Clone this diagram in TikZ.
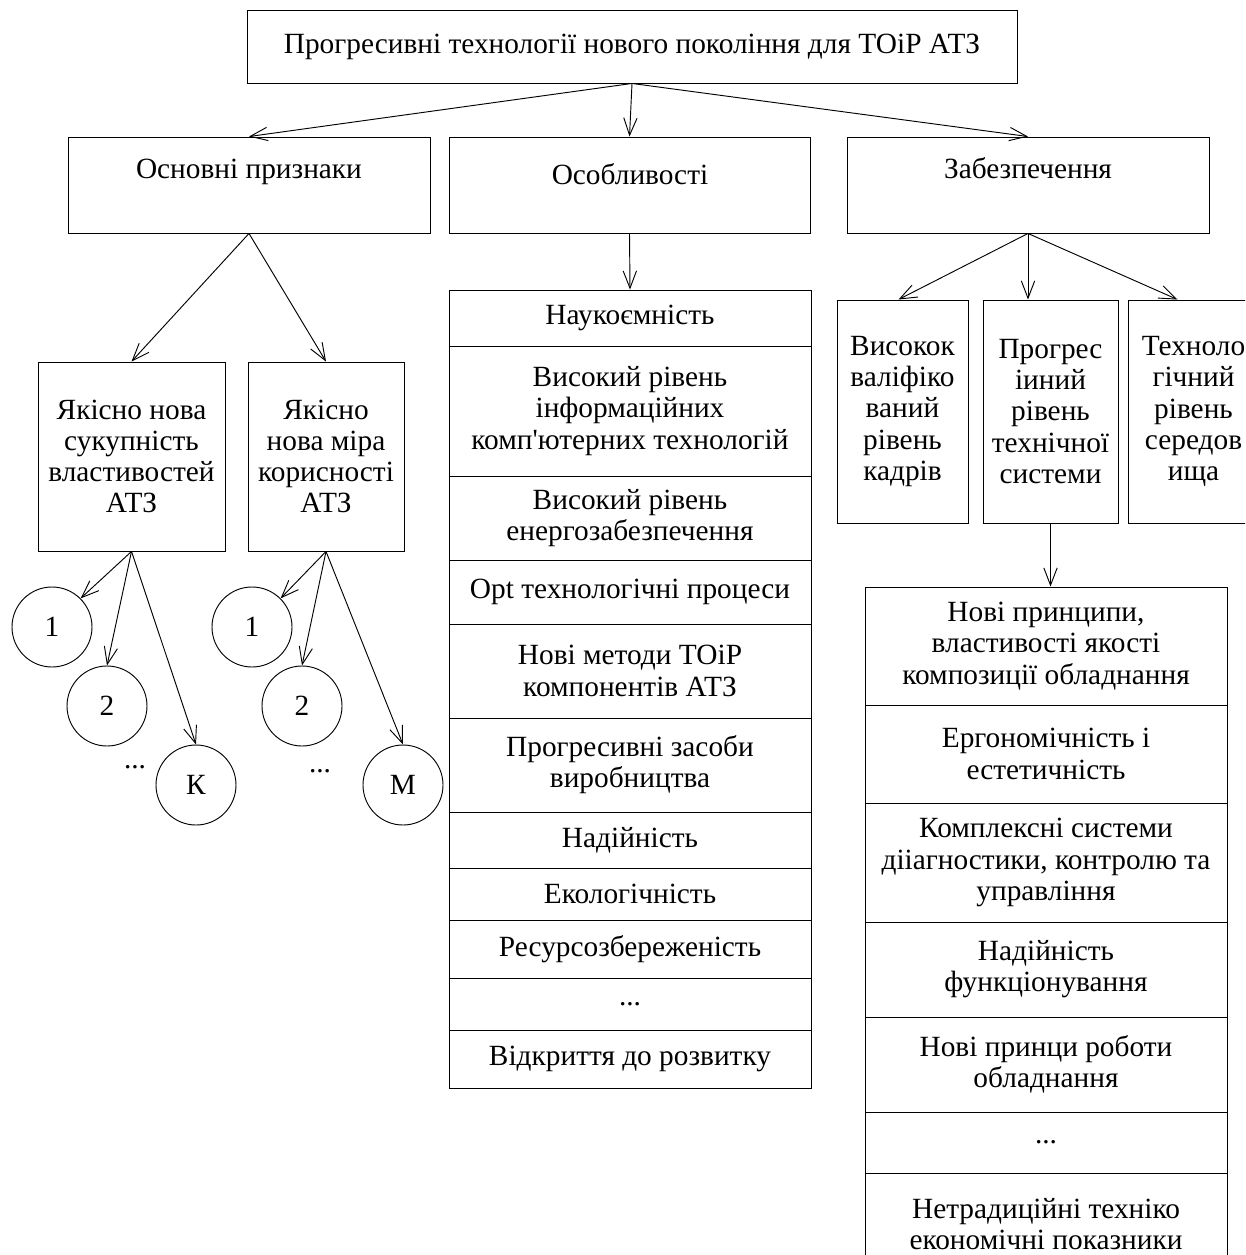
\documentclass[tikz,border=0pt]{standalone}
\usepackage{fontspec}
\setmainfont{Liberation Serif}[Ligatures=TeXOff]
\usetikzlibrary{arrows.meta,positioning,calc}

\tikzset{
  box/.style={draw, line width=0.7pt, align=center, inner sep=0pt},
  wh/.style 2 args={minimum width=(#1)*0.75pt, minimum height=(#2)*0.75pt},
  circ/.style={draw, circle, line width=0.7pt, minimum size=60pt, inner sep=0pt},
  arr/.style={line width=0.7pt, -{Straight Barb[length=13pt,width=10pt]}},
}

\begin{document}
\begin{tikzpicture}[x=0.75pt,y=0.75pt,yscale=-1,xscale=1,font=\fontsize{22}{23.4}\selectfont]
\clip (0,0) rectangle (1245,1255);

% top
\node[box, wh={770}{73}] (top) at (632,46.5) {Прогресивні технології нового покоління для ТОіР АТЗ};

% second level
\node[box, wh={362}{96}] (osn) at (249,185) {};
\node[box, wh={361}{96}] (osob) at (629.5,185) {};
\node[box, wh={362}{96}] (zab) at (1028,185) {};
\node (osnT) at (249,172) {Основні признаки};
\node (osobT) at (630,174) {Особливості};
\node (zabT) at (1028,168) {Забезпечення};

\draw[arr] (top.south) -- (osn.north);
\draw[arr] (top.south) -- (osob.north);
\draw[arr] (top.south) -- (zab.north);

% left branch
\node[box, wh={187}{189}] (sukup) at (131.5,456.5) {Якісно нова\\сукупність\\властивостей\\АТЗ};
\node[box, wh={156}{189}] (mira) at (326,456.5) {Якісно\\нова міра\\корисності\\АТЗ};
\draw[arr] (osn.south) -- (sukup.north);
\draw[arr] (osn.south) -- (mira.north);

\node[circ] (s1) at (52,627) {1};
\node[circ] (s2) at (107,706) {2};
\node[circ] (sk) at (196,785) {К};
\node (sdots) at (135,767) {...};
\node[circ] (m1) at (252,627) {1};
\node[circ] (m2) at (302,706) {2};
\node[circ] (mm) at (403,785) {М};
\node (mdots) at (320,771) {...};

\draw[arr] (sukup.south) -- (s1.45);
\draw[arr] (sukup.south) -- (s2.north);
\draw[arr] (sukup.south) -- (sk.north);
\draw[arr] (mira.south) -- (m1.45);
\draw[arr] (mira.south) -- (m2.north);
\draw[arr] (mira.south) -- (mm.north);

% middle list
\foreach \n/\ya/\yb/\txt in {
  1/290/346/{Наукоємність},
  2/346/476/{Високий рівень\\інформаційних\\комп'ютерних технологій},
  3/476/560/{Високий рівень\\енергозабезпечення},
  4/560/624/{Opt технологічні процеси},
  5/624/718/{Нові методи ТОіР\\компонентів АТЗ},
  6/718/812/{Прогресивні засоби\\виробництва},
  7/812/868/{Надійність},
  8/868/920/{Екологічність},
  9/920/978/{Ресурсозбереженість},
  10/978/1030/{...},
  11/1030/1088/{Відкриття до розвитку}}
  \node[box, wh={362}{\yb-\ya}] (o\n) at (630,{(\ya+\yb)/2}) {\txt};
\draw[arr] (osob.south) -- (o1.north);

% right branch
\node[box, wh={131}{223}] (kadry) at (902.5,411.5) {Високок\\валіфіко\\ваний\\рівень\\кадрів};
\node[box, wh={135}{223}] (tehsys) at (1050.5,411.5) {Прогрес\\іиний\\рівень\\технічної\\системи};
\node[box, wh={131}{223}] (sered) at (1193.5,411.5) {Техноло\\гічний\\рівень\\середов\\ища};
\draw[arr] (zab.south) -- ([xshift=-3pt]kadry.north);
\draw[arr] (zab.south) -- (zab.south |- tehsys.north);
\draw[arr] (zab.south) -- ([xshift=-12pt]sered.north);

\foreach \n/\ya/\yb/\txt in {
  1/587/705/{Нові принципи,\\властивості якості\\композиції обладнання},
  2/705/803/{Ергономічність і\\естетичність},
  3/803/922/{Комплексні системи\\діiагностики, контролю та\\управління},
  4/922/1017/{Надійність\\функціонування},
  5/1017/1112/{Нові принци роботи\\обладнання},
  6/1112/1173/{...},
  7/1173/1275/{Нетрадиційні техніко\\економічні показники}}
  \node[box, wh={362}{\yb-\ya}] (r\n) at (1046,{(\ya+\yb)/2}) {\txt};
\draw[arr] (tehsys.south) -- (tehsys.south |- r1.north);

\end{tikzpicture}
\end{document}
